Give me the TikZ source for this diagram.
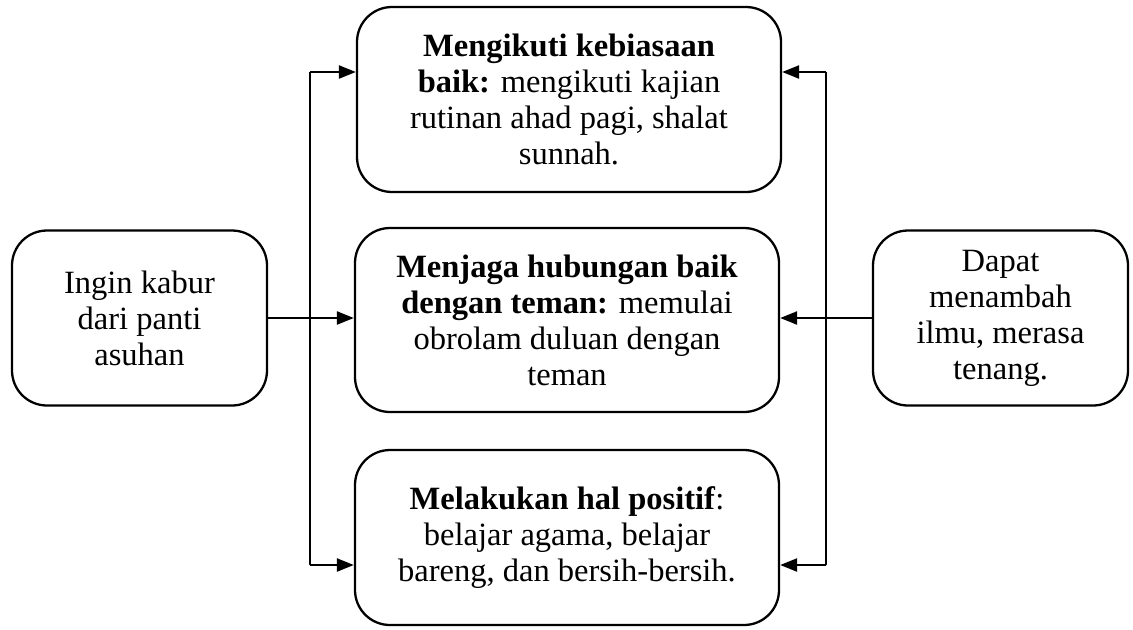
\documentclass[tikz,border=0pt]{standalone}
\usepackage{fontspec}
\setmainfont{Liberation Serif}
\usetikzlibrary{arrows.meta,positioning,calc}
\tikzset{
  blk/.style={draw,rectangle,rounded corners=0.7cm,line width=1.3pt,align=center,
    font=\fontsize{18.5}{20.5}\selectfont,inner sep=0pt},
  midblk/.style={blk,minimum width=8.48cm},
  sideblk/.style={blk,minimum width=5.1cm,minimum height=3.5cm},
  arr/.style={-{Triangle[length=0.34cm,width=0.26cm]},line width=1.3pt},
  bus/.style={line width=1.3pt}
}
\begin{document}
\begin{tikzpicture}
  \useasboundingbox (0,0) rectangle (22.66,-12.58);
  % Middle column
  \node[midblk, minimum height=3.7cm] (kebiasaan) at (11.38,-1.99)
    {\textbf{Mengikuti kebiasaan}\\ \textbf{baik:} mengikuti kajian\\ rutinan ahad pagi, shalat\\ sunnah.};
  \node[midblk, minimum height=3.68cm] (hubungan) at (11.34,-6.4)
    {\textbf{Menjaga hubungan baik}\\ \textbf{dengan teman:} memulai\\ obrolam duluan dengan\\ teman};
  \node[midblk, minimum height=3.5cm] (positif) at (11.34,-10.75)
    {\textbf{Melakukan hal positif}:\\ belajar agama, belajar\\ bareng, dan bersih-bersih.};

  % Cause and result
  \node[sideblk] (kabur) at (2.79,-6.36) {Ingin kabur\\ dari panti\\ asuhan};
  \node[sideblk] (hasil) at (20.01,-6.36) {Dapat\\ menambah\\ ilmu, merasa\\ tenang.};

  % Left bus
  \coordinate (ltop) at (6.2,-1.44);
  \coordinate (lbot) at (6.2,-11.3);
  \draw[bus] (ltop) -- (lbot);
  \draw[arr] (ltop) -- (ltop -| kebiasaan.west);
  \draw[arr] (kabur.east) -- (kabur.east -| hubungan.west);
  \draw[arr] (lbot) -- (lbot -| positif.west);

  % Right bus
  \coordinate (rtop) at (16.52,-1.44);
  \coordinate (rbot) at (16.52,-11.3);
  \draw[bus] (rtop) -- (rbot);
  \draw[arr] (rtop) -- (rtop -| kebiasaan.east);
  \draw[arr] (hasil.west) -- (hasil.west -| hubungan.east);
  \draw[arr] (rbot) -- (rbot -| positif.east);
\end{tikzpicture}
\end{document}
